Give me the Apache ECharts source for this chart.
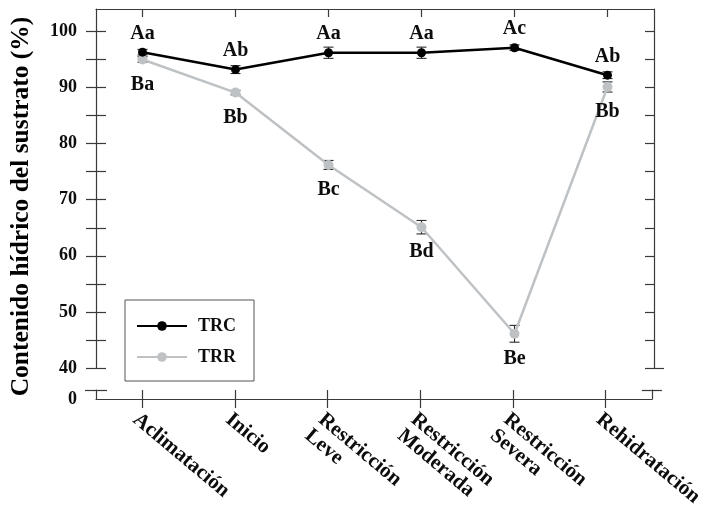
<!DOCTYPE html>
<html>
<head>
<meta charset="utf-8">
<script src="https://cdn.jsdelivr.net/npm/echarts@6/dist/echarts.min.js"></script>
<style>
  html, body { margin: 0; padding: 0; background: #ffffff; }
  #chart { width: 706px; height: 518px; }
</style>
</head>
<body>
<div id="chart"></div>
<script>
// Water content of the substrate by stage, two treatments (mean ± error)
const categories = ['Aclimatación', 'Inicio', 'Restricción\nLeve', 'Restricción\nModerada', 'Restricción\nSevera', 'Rehidratación'];
const trcValues = [96.3, 93.2, 96.2, 96.2, 97.1, 92.2];
const trcErrors = [0.5, 0.7, 1.0, 1.0, 0.5, 0.6];
const trcLetters = ['Aa', 'Ab', 'Aa', 'Aa', 'Ac', 'Ab'];
const trrValues = [95.0, 89.1, 76.2, 65.1, 46.1, 90.1];
const trrErrors = [0.5, 0.4, 0.8, 1.2, 1.5, 0.9];
const trrLetters = ['Ba', 'Bb', 'Bc', 'Bd', 'Be', 'Bb'];
const yTicks = [40, 45, 50, 55, 60, 65, 70, 75, 80, 85, 90, 95, 100];
const yLabels = [40, 50, 60, 70, 80, 90, 100];
const yLowLabels = [0];

const FONT = '"Liberation Serif", "DejaVu Serif", serif';
const AXIS_COLOR = '#3a3a3a';
const TEXT_COLOR = '#0d0d0d';
const TRC_COLOR = '#000000';
const TRR_COLOR = '#bfc2c4';

const chart = echarts.init(document.getElementById('chart'), null, { renderer: 'canvas' });

const hidden = { show: false };
const lineStyle = { color: AXIS_COLOR, width: 1.2 };

// Error bars: vertical whisker with short caps
function errorBarSeries(values, errors, z) {
  return {
    type: 'custom',
    xAxisIndex: 0,
    yAxisIndex: 0,
    z: z,
    silent: true,
    data: values.map((v, i) => [i, v - errors[i], v + errors[i]]),
    renderItem: function (params, api) {
      const i = api.value(0);
      const lo = api.coord([i, api.value(1)]);
      const hi = api.coord([i, api.value(2)]);
      const cap = 5;
      const style = { stroke: '#2a2a2a', lineWidth: 1.1, fill: null };
      return {
        type: 'group',
        children: [
          { type: 'line', shape: { x1: lo[0], y1: lo[1], x2: hi[0], y2: hi[1] }, style: style },
          { type: 'line', shape: { x1: lo[0] - cap, y1: lo[1], x2: lo[0] + cap, y2: lo[1] }, style: style },
          { type: 'line', shape: { x1: hi[0] - cap, y1: hi[1], x2: hi[0] + cap, y2: hi[1] }, style: style }
        ]
      };
    }
  };
}

const option = {
  backgroundColor: '#ffffff',
  animation: false,
  textStyle: { fontFamily: FONT },
  grid: [
    { left: 96, right: 52, top: 9, bottom: 150 },
    { left: 96, right: 52, top: 390, bottom: 119 }
  ],
  xAxis: [
    {
      gridIndex: 0, type: 'category', position: 'top', data: categories, boundaryGap: true,
      axisLine: { show: true, lineStyle: lineStyle },
      axisTick: { show: true, inside: true, length: 8, alignWithLabel: true, lineStyle: lineStyle },
      axisLabel: hidden, splitLine: hidden
    },
    {
      gridIndex: 1, type: 'category', position: 'bottom', data: categories, boundaryGap: true,
      axisLine: { show: true, lineStyle: lineStyle },
      axisTick: { show: true, inside: false, length: 9, alignWithLabel: true, lineStyle: lineStyle },
      axisLabel: {
        show: true, interval: 0, rotate: -40, margin: 10, verticalAlign: 'top',
        fontFamily: FONT, fontSize: 21, fontWeight: 'bold', color: TEXT_COLOR, lineHeight: 21
      },
      splitLine: hidden
    },
    {
      gridIndex: 1, type: 'category', position: 'bottom', data: categories, boundaryGap: true,
      axisLine: hidden,
      axisTick: { show: true, inside: true, length: 9, alignWithLabel: true, lineStyle: lineStyle },
      axisLabel: hidden, splitLine: hidden
    }
  ],
  yAxis: [
    {
      gridIndex: 0, type: 'value', position: 'left', min: 40, max: 104,
      name: 'Contenido hídrico del sustrato (%)', nameLocation: 'middle', nameGap: 62, nameRotate: 90,
      nameTextStyle: { fontFamily: FONT, fontSize: 25.5, fontWeight: 'bold', color: '#000000', padding: [0, 36, 0, 0] },
      axisLine: { show: true, lineStyle: lineStyle },
      axisTick: { show: true, inside: false, length: 10, customValues: yTicks, lineStyle: lineStyle },
      axisLabel: { show: true, margin: 19, customValues: yLabels, fontFamily: FONT, fontSize: 18, fontWeight: 'bold', color: TEXT_COLOR },
      splitLine: hidden
    },
    {
      gridIndex: 0, type: 'value', position: 'left', min: 40, max: 104,
      axisLine: hidden,
      axisTick: { show: true, inside: true, length: 10, customValues: yTicks, lineStyle: lineStyle },
      axisLabel: hidden, splitLine: hidden
    },
    {
      gridIndex: 0, type: 'value', position: 'right', min: 40, max: 104,
      axisLine: { show: true, lineStyle: lineStyle },
      axisTick: { show: true, inside: true, length: 9, customValues: yTicks, lineStyle: lineStyle },
      axisLabel: hidden, splitLine: hidden
    },
    {
      gridIndex: 0, type: 'value', position: 'right', min: 40, max: 104,
      axisLine: hidden,
      axisTick: { show: true, inside: false, length: 10, customValues: [40], lineStyle: lineStyle },
      axisLabel: hidden, splitLine: hidden
    },
    {
      gridIndex: 1, type: 'value', position: 'left', min: 0, max: 1,
      axisLine: { show: true, lineStyle: lineStyle },
      axisTick: { show: true, inside: false, length: 11, customValues: [1], lineStyle: lineStyle },
      axisLabel: { show: true, margin: 19, customValues: yLowLabels, fontFamily: FONT, fontSize: 18, fontWeight: 'bold', color: TEXT_COLOR },
      splitLine: hidden
    },
    {
      gridIndex: 1, type: 'value', position: 'left', min: 0, max: 1,
      axisLine: hidden,
      axisTick: { show: true, inside: true, length: 11, customValues: [1], lineStyle: lineStyle },
      axisLabel: hidden, splitLine: hidden
    },
    {
      gridIndex: 1, type: 'value', position: 'right', min: 0, max: 1,
      axisLine: { show: true, lineStyle: lineStyle },
      axisTick: { show: true, inside: true, length: 10, customValues: [1], lineStyle: lineStyle },
      axisLabel: hidden, splitLine: hidden
    },
    {
      gridIndex: 1, type: 'value', position: 'right', min: 0, max: 1,
      axisLine: hidden,
      axisTick: { show: true, inside: false, length: 10, customValues: [1], lineStyle: lineStyle },
      axisLabel: hidden, splitLine: hidden
    }
  ],
  legend: {
    data: ['TRC', 'TRR'],
    orient: 'vertical',
    left: 125, top: 300,
    padding: [17, 18, 15, 11],
    itemWidth: 50, itemHeight: 12, itemGap: 13,
    borderColor: '#555555', borderWidth: 1,
    textStyle: { fontFamily: FONT, fontSize: 18, fontWeight: 'bold', color: TEXT_COLOR, lineHeight: 18, padding: [0, 0, 0, 6] }
  },
  series: [
    errorBarSeries(trrValues, trrErrors, 2),
    errorBarSeries(trcValues, trcErrors, 2),
    {
      name: 'TRR', type: 'line', xAxisIndex: 0, yAxisIndex: 0, z: 3,
      data: trrValues,
      symbol: 'circle', symbolSize: 10,
      itemStyle: { color: TRR_COLOR },
      lineStyle: { color: TRR_COLOR, width: 2.5 },
      label: {
        show: true, position: 'bottom', distance: 10,
        formatter: p => trrLetters[p.dataIndex],
        fontFamily: FONT, fontSize: 20, fontWeight: 'bold', color: TEXT_COLOR
      }
    },
    {
      name: 'TRC', type: 'line', xAxisIndex: 0, yAxisIndex: 0, z: 4,
      data: trcValues,
      symbol: 'circle', symbolSize: 9,
      itemStyle: { color: TRC_COLOR },
      lineStyle: { color: TRC_COLOR, width: 2.5 },
      label: {
        show: true, position: 'top', distance: 4,
        formatter: p => trcLetters[p.dataIndex],
        fontFamily: FONT, fontSize: 20, fontWeight: 'bold', color: TEXT_COLOR
      }
    }
  ]
};

chart.setOption(option);
</script>
</body>
</html>
